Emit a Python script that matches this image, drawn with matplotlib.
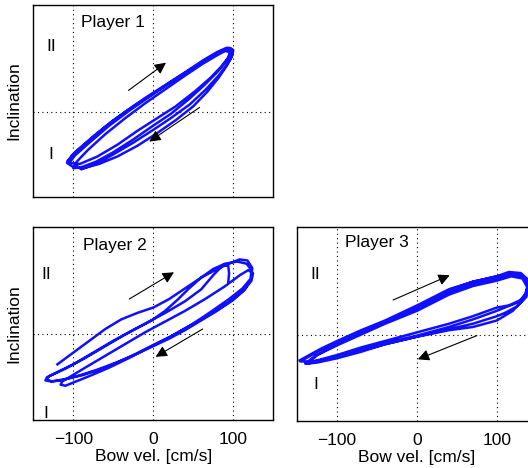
import matplotlib
matplotlib.use('Agg')
import matplotlib.pyplot as plt

plt.rcParams['font.family'] = ['Liberation Sans', 'DejaVu Sans']
plt.rcParams['font.size'] = 12.5
plt.rcParams['axes.unicode_minus'] = True

# bow velocity [cm/s] vs. inclination (arbitrary units)
x1 = [-107, -95, -75, -50, -25, 0, 25, 50, 70, 85, 95, 100, 98, 92, 82, 68, 50, 28, 5, -20, -45, -68, -88, -100, -108,
      -102, -85, -60, -35, -10, 15, 40, 62, 80, 92, 98, 97, 91, 80, 64, 45, 22, 0, -25, -50, -72, -90, -100,
      -96, -82, -60, -35, -10, 15, 40, 62, 80, 90, 96, 94, 86, 72, 52, 28, 5, -20, -45, -70, -92, -105,
      -98, -80, -55, -30, -5, 20, 45, 68, 85, 95, 100, 99, 93, 82, 66, 46, 22, 0, -25, -50, -72, -90, -97]
y1 = [-0.46, -0.36, -0.23, -0.08, 0.05, 0.17, 0.29, 0.41, 0.50, 0.56, 0.59, 0.57, 0.51, 0.43, 0.32, 0.19, 0.05, -0.08, -0.20, -0.32, -0.42, -0.49, -0.53, -0.52, -0.48,
      -0.41, -0.30, -0.14, 0.00, 0.13, 0.25, 0.37, 0.48, 0.56, 0.60, 0.59, 0.54, 0.47, 0.37, 0.25, 0.12, -0.02, -0.13, -0.26, -0.38, -0.47, -0.52, -0.53,
      -0.47, -0.36, -0.21, -0.06, 0.08, 0.21, 0.34, 0.45, 0.53, 0.57, 0.56, 0.51, 0.43, 0.32, 0.19, 0.05, -0.06, -0.18, -0.31, -0.42, -0.49, -0.48,
      -0.41, -0.29, -0.13, 0.01, 0.14, 0.27, 0.39, 0.50, 0.57, 0.60, 0.58, 0.53, 0.45, 0.34, 0.21, 0.07, -0.06, -0.17, -0.29, -0.40, -0.49, -0.54, -0.50]

x2 = [-120, -100, -80, -60, -40, -20, 0, 20, 40, 60, 80, 95, 108, 118, 124, 123, 115, 100, 80, 60, 40, 20, 0, -20, -45, -70, -95, -115, -128, -135, -133,
      -122, -100, -75, -50, -25, -2, 15, 30, 45, 60, 75, 90, 105, 117, 123, 122, 112, 95, 72, 48, 22, -5, -30, -55, -80, -100, -110, -116, -114,
      -105, -85, -60, -35, -10, 15, 40, 65, 90, 108, 119, 125, 123, 112, 95, 72, 48, 22, -5, -32, -60, -88, -112, -127, -134, -130,
      -110, -85, -60, -35, -10, 15, 40, 60, 76, 88, 94, 95, 94]
y2 = [-0.28, -0.17, -0.06, 0.05, 0.14, 0.20, 0.25, 0.33, 0.43, 0.53, 0.61, 0.66, 0.70, 0.69, 0.62, 0.52, 0.42, 0.32, 0.22, 0.13, 0.04, -0.04, -0.11, -0.18, -0.26, -0.33, -0.39, -0.43, -0.44, -0.43, -0.40,
      -0.36, -0.28, -0.17, -0.06, 0.04, 0.13, 0.22, 0.32, 0.43, 0.53, 0.61, 0.66, 0.68, 0.66, 0.60, 0.52, 0.43, 0.33, 0.21, 0.09, -0.02, -0.12, -0.22, -0.31, -0.39, -0.45, -0.48, -0.47, -0.44,
      -0.40, -0.31, -0.20, -0.09, 0.02, 0.12, 0.22, 0.33, 0.45, 0.55, 0.60, 0.57, 0.50, 0.40, 0.30, 0.19, 0.09, -0.02, -0.12, -0.22, -0.31, -0.38, -0.42, -0.44, -0.42, -0.39,
      -0.32, -0.22, -0.11, 0.00, 0.10, 0.20, 0.31, 0.42, 0.56, 0.65, 0.64, 0.57, 0.49]

x3 = [-147, -120, -100, -70, -40, 0, 40, 70, 100, 118, 132, 139, 137, 127, 110, 100, 70, 40, 0, -40, -70, -100, -125, -137,
      -125, -100, -70, -40, 0, 40, 70, 100, 120, 134, 140, 137, 125, 110, 100, 70, 40, 0, -40, -70, -100, -130, -146,
      -125, -100, -70, -40, 0, 40, 70, 100, 115, 130, 139, 139, 130, 115, 100, 70, 40, 0, -40, -70, -100, -125, -140,
      -128, -100, -70, -40, 0, 40, 70, 100, 118, 132, 138, 134, 120, 100, 70, 40, 0, -40, -70, -100, -125, -138]
y3 = [-0.24, -0.13, -0.06, 0.04, 0.13, 0.27, 0.42, 0.49, 0.54, 0.57, 0.55, 0.48, 0.38, 0.30, 0.25, 0.22, 0.14, 0.07, -0.01, -0.08, -0.14, -0.20, -0.25, -0.27,
      -0.19, -0.09, 0.02, 0.11, 0.24, 0.39, 0.47, 0.52, 0.56, 0.54, 0.46, 0.35, 0.26, 0.20, 0.17, 0.10, 0.05, -0.02, -0.09, -0.15, -0.21, -0.25, -0.25,
      -0.16, -0.07, 0.03, 0.12, 0.26, 0.41, 0.49, 0.54, 0.58, 0.57, 0.51, 0.41, 0.32, 0.27, 0.25, 0.17, 0.10, 0.02, -0.06, -0.12, -0.19, -0.24, -0.27,
      -0.20, -0.10, 0.00, 0.10, 0.22, 0.37, 0.45, 0.50, 0.54, 0.52, 0.44, 0.33, 0.22, 0.13, 0.07, 0.04, -0.02, -0.09, -0.16, -0.22, -0.26, -0.27]

xticks = [-100, 0, 100]
xticklabels = ['\u2212100', '0', '100']


def panel(ax, x, y, title, arrows, lab2, lab1, show_x=True, show_y=True):
    ax.plot(x, y, color='#1010ff', lw=1.8, solid_joinstyle='round')
    ax.set_xlim(-150, 150)
    ax.set_ylim(-0.8, 1.0)
    ax.set_xticks(xticks)
    ax.set_yticks([0])
    ax.set_yticklabels([])
    if show_x:
        ax.set_xticklabels(xticklabels)
        ax.set_xlabel('Bow vel. [cm/s]', labelpad=1)
    else:
        ax.set_xticklabels([])
    if show_y:
        ax.set_ylabel('Inclination')
        ax.yaxis.set_label_coords(-0.05, 0.5)
    ax.tick_params(length=0, pad=9)
    ax.grid(True, color='k', linestyle=(0, (1, 3)), lw=0.8)
    for s in ax.spines.values():
        s.set_linewidth(1.0)
    ax.text(title[0], title[1], title[2], ha='left', va='center')
    ax.text(lab2[0], lab2[1], 'II', ha='center', va='center')
    ax.text(lab1[0], lab1[1], 'I', ha='center', va='center')
    for (xs, ys, xe, ye) in arrows:
        ax.annotate('', xy=(xe, ye), xytext=(xs, ys),
                    arrowprops=dict(arrowstyle='-|>', color='k', lw=0.8,
                                    mutation_scale=17, shrinkA=0, shrinkB=0))


fig = plt.figure(figsize=(5.28, 4.68), dpi=100)
ax1 = fig.add_axes([0.0634, 0.579, 0.4536, 0.410])
ax2 = fig.add_axes([0.0634, 0.1026, 0.4536, 0.4117])
ax3 = fig.add_axes([0.563, 0.101, 0.4536, 0.4145])

panel(ax1, x1, y1, (-90, 0.84, 'Player 1'),
      [(-31, 0.20, 16, 0.46), (58, 0.04, -5, -0.28)],
      (-128, 0.61), (-128, -0.40), show_x=False)
panel(ax2, x2, y2, (-88, 0.83, 'Player 2'),
      [(-30, 0.33, 26, 0.58), (62, 0.05, 3, -0.21)],
      (-134, 0.56), (-134, -0.735))
panel(ax3, x3, y3, (-90, 0.855, 'Player 3'),
      [(-30, 0.32, 41, 0.55), (75, -0.01, 1, -0.23)],
      (-128, 0.56), (-127, -0.46), show_y=False)

plt.savefig('out.png', dpi=100)
